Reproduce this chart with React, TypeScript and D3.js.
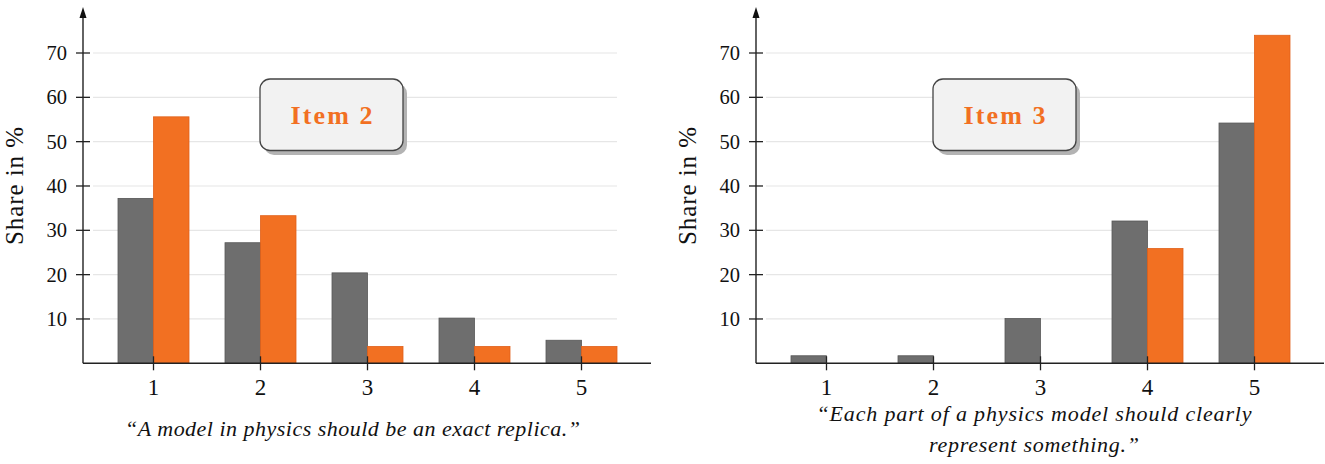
import React from "react";
import * as d3 from "d3";

const categories = [1, 2, 3, 4, 5];
const yTicks = [10, 20, 30, 40, 50, 60, 70];

const item2Gray = [37.2, 27.2, 20.4, 10.2, 5.2];
const item2Orange = [55.6, 33.3, 3.8, 3.8, 3.8];
const item3Gray = [1.7, 1.7, 10.1, 32.1, 54.2];
const item3Orange = [0, 0, 0, 25.9, 74.0];

const item2Title = "Item 2";
const item3Title = "Item 3";
const item2Caption = ["\u201CA model in physics should be an exact replica.\u201D"];
const item3Caption = ["\u201CEach part of a physics model should clearly", "represent something.\u201D"];

const GRAY = "#6e6e6e";
const GRAY_STROKE = "#575757";
const ORANGE = "#f27022";
const ORANGE_STROKE = "#e0601a";
const FONT = "'Liberation Serif', 'Times New Roman', serif";

type PanelProps = {
  ax: number;
  gray: number[];
  orange: number[];
  title: string;
  caption: string[];
  captionX: number;
  captionY: number[];
  captionLen: number[];
};

function Panel({ ax, gray, orange, title, caption, captionX, captionY, captionLen }: PanelProps) {
  const y = d3.scaleLinear().domain([0, 70]).range([363.3, 53]);
  const x = d3.scaleLinear().domain([1, 5]).range([ax + 70.5, ax + 498.5]);
  const bw = 35.5;
  const y0 = y(0);
  const gridEnd = x(5) + bw;
  const boxX = ax + 177;
  const boxY = 79;
  const boxW = 143;
  const boxH = 71.5;
  return (
    <g>
      {yTicks.map((t) => (
        <line key={"g" + t} x1={ax + 10} x2={gridEnd} y1={y(t)} y2={y(t)} stroke="#e6e6e6" strokeWidth={1.2} />
      ))}
      {categories.map((c, i) => (
        <g key={"b" + c}>
          {gray[i] > 0 && (
            <rect x={x(c) - bw} y={y(gray[i])} width={bw} height={y0 - y(gray[i])} fill={GRAY} stroke={GRAY_STROKE} strokeWidth={0.8} />
          )}
          {orange[i] > 0 && (
            <rect x={x(c)} y={y(orange[i])} width={bw} height={y0 - y(orange[i])} fill={ORANGE} stroke={ORANGE_STROKE} strokeWidth={0.8} />
          )}
        </g>
      ))}
      <line x1={ax} x2={ax + 568} y1={y0} y2={y0} stroke="#222" strokeWidth={1.4} />
      <line x1={ax} x2={ax} y1={y0} y2={16} stroke="#222" strokeWidth={1.4} />
      <path d={`M${ax},7 L${ax - 3.5},18 L${ax + 3.5},18 Z`} fill="#111" />
      {yTicks.map((t) => (
        <g key={"yt" + t}>
          <line x1={ax - 7} x2={ax + 7} y1={y(t)} y2={y(t)} stroke="#222" strokeWidth={1.3} />
          <text x={ax - 16} y={y(t) + 7} textAnchor="end" fontFamily={FONT} fontSize={20.5} fill="#111">
            {t}
          </text>
        </g>
      ))}
      {categories.map((c) => (
        <g key={"xt" + c}>
          <line x1={x(c)} x2={x(c)} y1={y0 - 7} y2={y0 + 7} stroke="#222" strokeWidth={1.3} />
          <text x={x(c)} y={395} textAnchor="middle" fontFamily={FONT} fontSize={23} fill="#111">
            {c}
          </text>
        </g>
      ))}
      <text
        transform={`translate(${ax - 60},186) rotate(-90)`}
        textAnchor="middle"
        fontFamily={FONT}
        fontSize={25}
        fill="#111"
        textLength={118}
        lengthAdjust="spacing"
      >
        Share in %
      </text>
      <rect x={boxX + 4} y={boxY + 4.5} width={boxW} height={boxH} rx={10} fill="#b3b3b3" />
      <rect x={boxX} y={boxY} width={boxW} height={boxH} rx={10} fill="#f2f2f2" stroke="#444" strokeWidth={1.3} />
      <text
        x={boxX + boxW / 2}
        y={boxY + 44.5}
        textAnchor="middle"
        fontFamily={FONT}
        fontWeight="bold"
        fontSize={26}
        fill={ORANGE}
        textLength={82}
        lengthAdjust="spacing"
      >
        {title}
      </text>
      {caption.map((line, i) => (
        <text
          key={"c" + i}
          x={captionX}
          y={captionY[i]}
          textAnchor="middle"
          fontFamily={FONT}
          fontStyle="italic"
          fontSize={22}
          fill="#111"
          textLength={captionLen[i]}
          lengthAdjust="spacing"
        >
          {line}
        </text>
      ))}
    </g>
  );
}

export default function App() {
  return (
    <svg
      width={1325}
      height={464}
      viewBox="0 0 1325 464"
      style={{ position: "absolute", left: 0, top: 0, background: "#fff" }}
    >
      <rect x={0} y={0} width={1325} height={464} fill="#fff" />
      <Panel
        ax={83}
        gray={item2Gray}
        orange={item2Orange}
        title={item2Title}
        caption={item2Caption}
        captionX={352.5}
        captionY={[436]}
        captionLen={[455]}
      />
      <Panel
        ax={756}
        gray={item3Gray}
        orange={item3Orange}
        title={item3Title}
        caption={item3Caption}
        captionX={1034}
        captionY={[420.5, 451.5]}
        captionLen={[435, 210]}
      />
    </svg>
  );
}
